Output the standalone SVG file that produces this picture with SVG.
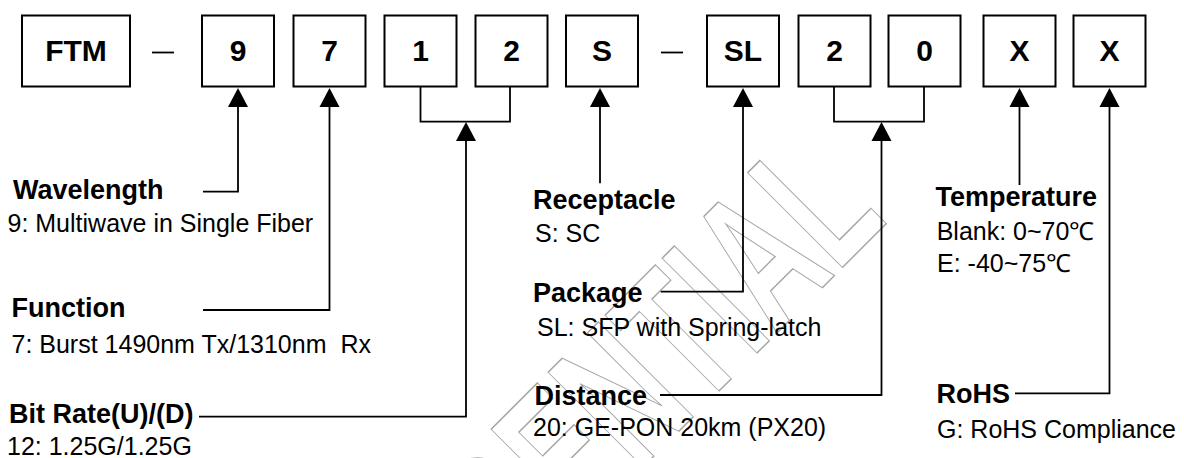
<svg xmlns="http://www.w3.org/2000/svg" width="1184" height="458" viewBox="0 0 1184 458">
  <style>
    .box { fill: #fff; stroke: #000; stroke-width: 2; }
    .bt { font-family: "Liberation Sans", Arial, sans-serif; font-weight: bold; font-size: 30px; text-anchor: middle; fill: #000; }
    .lb { font-family: "Liberation Sans", Arial, sans-serif; font-weight: bold; font-size: 27px; fill: #000; }
    .ds { font-family: "Liberation Sans", Arial, sans-serif; font-size: 25px; fill: #000; white-space: pre; }
    .ln { fill: none; stroke: #000; stroke-width: 1.8; }
    .ah { fill: #000; stroke: none; }
    .wm { font-family: "Liberation Sans", Arial, sans-serif; font-weight: bold; font-size: 195px; fill: none; stroke: #a6a6a6; stroke-width: 1.2; text-anchor: end; }
  </style>
  <defs>
    <path id="arr" class="ah" d="M0,0 L-10,19 L10,19 Z"/>
  </defs>

  <g id="watermark">
    <text class="wm" vector-effect="non-scaling-stroke" transform="translate(889,221) rotate(-45) scale(0.62,1)">CONFIDENTIAL</text>
  </g>

  <g id="box-ftm"><rect class="box" x="22" y="15.5" width="108" height="71"/><text class="bt" x="76" y="60.5">FTM</text></g>
  <g id="dash1"><line class="ln" x1="152" y1="52.5" x2="174" y2="52.5" stroke-width="2"/></g>
  <g id="box-9"><rect class="box" x="202" y="15.5" width="72" height="71"/><text class="bt" x="238" y="60.5">9</text></g>
  <g id="box-7"><rect class="box" x="293.5" y="15.5" width="72" height="71"/><text class="bt" x="329.5" y="60.5">7</text></g>
  <g id="box-1"><rect class="box" x="384.5" y="15.5" width="72" height="71"/><text class="bt" x="420.5" y="60.5">1</text></g>
  <g id="box-2a"><rect class="box" x="475.5" y="15.5" width="72" height="71"/><text class="bt" x="511.5" y="60.5">2</text></g>
  <g id="box-s"><rect class="box" x="566" y="15.5" width="72" height="71"/><text class="bt" x="602" y="60.5">S</text></g>
  <g id="dash2"><line class="ln" x1="661" y1="52.5" x2="683" y2="52.5" stroke-width="2"/></g>
  <g id="box-sl"><rect class="box" x="707" y="15.5" width="72" height="71"/><text class="bt" x="743" y="60.5">SL</text></g>
  <g id="box-2b"><rect class="box" x="798.5" y="15.5" width="72" height="71"/><text class="bt" x="834.5" y="60.5">2</text></g>
  <g id="box-0"><rect class="box" x="888.5" y="15.5" width="72" height="71"/><text class="bt" x="924.5" y="60.5">0</text></g>
  <g id="box-x1"><rect class="box" x="983.5" y="15.5" width="72" height="71"/><text class="bt" x="1019.5" y="60.5">X</text></g>
  <g id="box-x2"><rect class="box" x="1073.5" y="15.5" width="72" height="71"/><text class="bt" x="1109.5" y="60.5">X</text></g>

  <g id="connectors">
    <polyline class="ln" points="203,191.7 238,191.7 238,100"/>
    <use href="#arr" x="238" y="88"/>
    <polyline class="ln" points="203,310 329.5,310 329.5,100"/>
    <use href="#arr" x="329.5" y="88"/>
    <polyline class="ln" points="420.5,87 420.5,121.7 510,121.7 510,87"/>
    <polyline class="ln" points="199,416.7 466,416.7 466,135"/>
    <use href="#arr" x="466" y="122"/>
    <polyline class="ln" points="600,183.3 600,100"/>
    <use href="#arr" x="600" y="88"/>
    <polyline class="ln" points="660.7,291.7 743,291.7 743,100"/>
    <use href="#arr" x="743" y="88"/>
    <polyline class="ln" points="834,87 834,121.7 924,121.7 924,87"/>
    <polyline class="ln" points="660,395 881.5,395 881.5,135"/>
    <use href="#arr" x="881.5" y="122"/>
    <polyline class="ln" points="1019.5,185 1019.5,100"/>
    <use href="#arr" x="1019.5" y="88"/>
    <polyline class="ln" points="1015,393.3 1109.5,393.3 1109.5,100"/>
    <use href="#arr" x="1109.5" y="88"/>
  </g>

  <g id="lbl-wavelength"><text class="lb" x="13" y="199">Wavelength</text><text class="ds" x="7.5" y="231.5">9: Multiwave in Single Fiber</text></g>
  <g id="lbl-function"><text class="lb" x="11.5" y="316.5">Function</text><text class="ds" x="11.5" y="353.3">7: Burst 1490nm Tx/1310nm  Rx</text></g>
  <g id="lbl-bitrate"><text class="lb" x="9" y="423.3">Bit Rate(U)/(D)</text><text class="ds" x="7" y="454.5">12: 1.25G/1.25G</text></g>
  <g id="lbl-receptacle"><text class="lb" x="533" y="209">Receptacle</text><text class="ds" x="535" y="242.3">S: SC</text></g>
  <g id="lbl-package"><text class="lb" x="533" y="301.7">Package</text><text class="ds" x="537" y="335.5">SL: SFP with Spring-latch</text></g>
  <g id="lbl-distance"><text class="lb" x="534.5" y="405">Distance</text><text class="ds" x="533" y="435.7">20: GE-PON 20km (PX20)</text></g>
  <g id="lbl-temperature"><text class="lb" x="935.5" y="206">Temperature</text><text class="ds" x="936.7" y="240">Blank: 0~70℃</text><text class="ds" x="937" y="271.7">E: -40~75℃</text></g>
  <g id="lbl-rohs"><text class="lb" x="936.5" y="402.7">RoHS</text><text class="ds" x="937" y="438">G: RoHS Compliance</text></g>
</svg>
